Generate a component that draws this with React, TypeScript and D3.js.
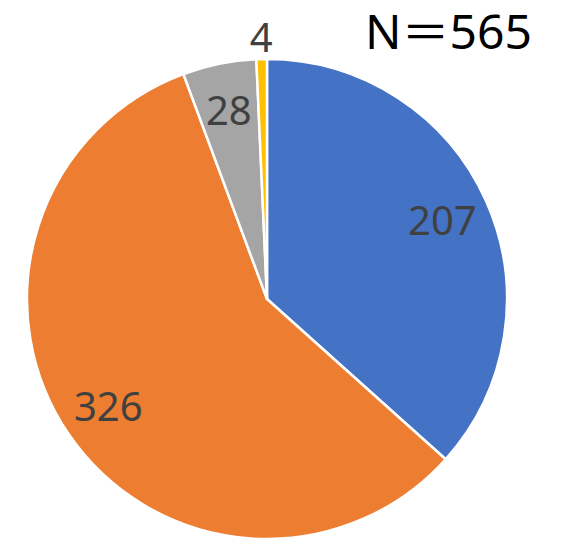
import React from "react";
import * as d3 from "d3";

const categories = ["A", "B", "C", "D"];
const values = [207, 326, 28, 4];
const colors = ["#4472C4", "#ED7D31", "#A5A5A5", "#FFC000"];
const totalLabel = "N\uFF1D565";

const W = 562;
const H = 541;

export default function App() {
  const cx = 267;
  const cy = 299;
  const r = 240;
  const fs = 40;
  const pie = d3
    .pie<number>()
    .sort(null)
    .startAngle(0)
    .endAngle(Math.PI * 2)
    .value((d) => d);
  const arcs = pie(values);
  const arc = d3.arc<d3.PieArcDatum<number>>().innerRadius(0).outerRadius(r);
  const labelArc = d3.arc<d3.PieArcDatum<number>>().innerRadius(192).outerRadius(192);
  const outerArc = d3.arc<d3.PieArcDatum<number>>().innerRadius(261).outerRadius(261);
  const font = "'Noto Sans', 'DejaVu Sans', sans-serif";
  return (
    <svg
      width={W}
      height={H}
      style={{ position: "absolute", left: 0, top: 0, display: "block" }}
    >
      <rect width={W} height={H} fill="#fff" />
      <g transform={`translate(${cx},${cy})`}>
        {arcs.map((a, i) => (
          <path
            key={categories[i]}
            d={arc(a) || ""}
            fill={colors[i]}
            stroke="#fff"
            strokeWidth={2.5}
            strokeLinejoin="round"
          />
        ))}
        {arcs.map((a, i) => {
          const small = a.endAngle - a.startAngle < 0.1;
          const [x, y] = small ? outerArc.centroid(a) : labelArc.centroid(a);
          return (
            <text
              key={"l" + categories[i]}
              x={x}
              y={y + fs * 0.357}
              textAnchor="middle"
              fontFamily={font}
              fontSize={fs}
              fill="#404040"
            >
              {values[i]}
            </text>
          );
        })}
      </g>
      <text
        x={365}
        y={49}
        textLength={167}
        lengthAdjust="spacingAndGlyphs"
        fontFamily="'Noto Sans', 'Noto Sans CJK JP', sans-serif"
        fontSize={47}
        fill="#000"
      >
        {totalLabel}
      </text>
    </svg>
  );
}
